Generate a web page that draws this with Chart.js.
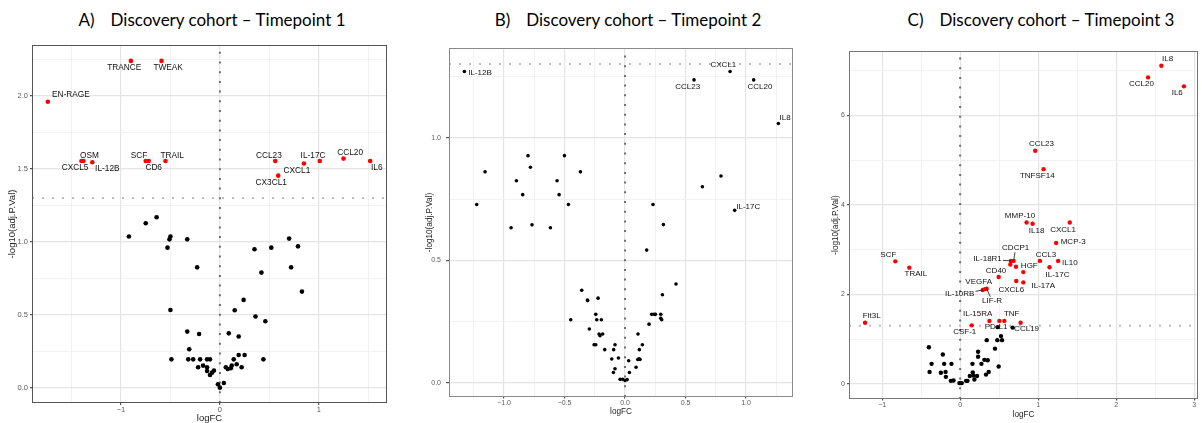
<!DOCTYPE html>
<html>
<head>
<meta charset="utf-8">
<script src="https://cdn.jsdelivr.net/npm/chart.js@4.4.0/dist/chart.umd.min.js"></script>
<style>
    html, body { margin: 0; padding: 0; background: #fff; }
    #contenedor { position: relative; width: 1202px; height: 423px; overflow: hidden; }
    canvas { position: absolute; top: 0; }
    .titulo {
        position: absolute; top: 9px; line-height: 21px;
        font-family: Lato, 'Open Sans', sans-serif; font-size: 17px; color: #000;
        white-space: nowrap; transform: translateX(-50%);
    }
    .titulo span { margin-right: 16px; }
</style>
</head>
<body>
<div id="contenedor">
    <div class="titulo" style="left:212px"><span>A)</span>Discovery cohort – Timepoint 1</div>
    <div class="titulo" style="left:628px"><span>B)</span>Discovery cohort – Timepoint 2</div>
    <div class="titulo" style="left:1041px"><span>C)</span>Discovery cohort – Timepoint 3</div>
    <canvas id="grafico_a" width="400" height="423" style="left:0px"></canvas>
    <canvas id="grafico_b" width="400" height="423" style="left:400px"></canvas>
    <canvas id="grafico_c" width="402" height="423" style="left:800px"></canvas>
</div>
<script>
// DATOS - A) TIMEPOINT 1
var a_rojo_nombres = ['TRANCE', 'TWEAK', 'EN-RAGE', 'OSM', 'CXCL5', 'IL-12B', 'SCF', 'CD6', 'TRAIL',
    'CCL23', 'CX3CL1', 'CXCL1', 'IL-17C', 'CCL20', 'IL6'];
var a_rojo_fc = [-0.90, -0.59, -1.74, -1.38, -1.40, -1.29, -0.75, -0.72, -0.55, 0.56, 0.59, 0.85, 1.01, 1.25, 1.52];
var a_rojo_p = [2.24, 2.24, 1.96, 1.555, 1.555, 1.546, 1.555, 1.555, 1.555, 1.555, 1.454, 1.537, 1.555, 1.571, 1.555];
var a_negro_fc = [-0.92, -0.75, -0.64, -0.50, -0.51, -0.53, -0.33, -0.23, -0.50, -0.33, -0.21, -0.31, -0.49, -0.32,
    -0.27, -0.20, -0.13, -0.10, -0.22, -0.17, -0.13, -0.13, -0.10, -0.08, -0.06, -0.02, 0.00, 0.04, 0.06, 0.08,
    0.11, 0.12, 0.14, 0.17, 0.22, 0.19, 0.25, 0.44, 0.09, 0.19, 0.15, 0.24, 0.36, 0.46, 0.83, 0.72, 0.42, 0.35,
    0.52, 0.70, 0.79];
var a_negro_p = [1.037, 1.128, 1.169, 1.037, 1.018, 0.961, 1.018, 0.826, 0.534, 0.386, 0.370, 0.265, 0.196, 0.196,
    0.196, 0.196, 0.196, 0.196, 0.142, 0.153, 0.142, 0.116, 0.089, 0.105, 0.119, 0.025, 0.002, 0.034, 0.142, 0.130,
    0.135, 0.153, 0.196, 0.162, 0.142, 0.226, 0.226, 0.196, 0.374, 0.352, 0.532, 0.603, 0.489, 0.457, 0.660, 0.826,
    0.790, 0.950, 0.961, 1.023, 0.970];
var a_x_mayor = [-1, 0, 1];
var a_x_menor = [-1.5, -0.5, 0.5, 1.5];
var a_y_mayor = [0, 0.5, 1, 1.5, 2];
var a_y_menor = [0.25, 0.75, 1.25, 1.75, 2.25];

// DATOS - B) TIMEPOINT 2
var b_etiq_nombres = ['IL-12B', 'CCL23', 'CXCL1', 'CCL20', 'IL8', 'IL-17C'];
var b_etiq_fc = [-1.328, 0.570, 0.868, 1.063, 1.267, 0.906];
var b_etiq_p = [1.270, 1.236, 1.270, 1.236, 1.058, 0.704];
var b_negro_fc = [-1.157, -1.226, -0.802, -0.782, -0.898, -0.846, -0.501, -0.369, -0.562, -0.545, -0.468, -0.942,
    -0.769, -0.617, 0.231, 0.317, 0.639, 0.793, 0.179, 0.421, 0.309, -0.358, -0.311, -0.309, -0.223, -0.449, -0.242,
    -0.234, -0.196, -0.295, -0.215, -0.185, -0.207, -0.256, -0.242, -0.168, -0.083, -0.094, -0.110, -0.055, -0.083,
    -0.096, -0.041, -0.019, 0.000, 0.017, 0.030, 0.036, 0.091, 0.105, 0.116, 0.124, 0.107, 0.118, 0.143, 0.198,
    0.220, 0.240, 0.251, 0.295, 0.295, 0.303];
var b_negro_p = [0.861, 0.728, 0.927, 0.880, 0.825, 0.768, 0.927, 0.861, 0.825, 0.768, 0.728, 0.633, 0.645, 0.633,
    0.728, 0.646, 0.800, 0.844, 0.542, 0.404, 0.360, 0.378, 0.338, 0.336, 0.346, 0.258, 0.280, 0.258, 0.258, 0.220,
    0.200, 0.200, 0.193, 0.156, 0.156, 0.136, 0.156, 0.136, 0.098, 0.102, 0.058, 0.043, 0.015, 0.015, 0.010, 0.014,
    0.091, 0.043, 0.064, 0.096, 0.099, 0.096, 0.200, 0.136, 0.156, 0.240, 0.280, 0.280, 0.280, 0.280, 0.264, 0.258];
var b_x_mayor = [-1, -0.5, 0, 0.5, 1];
var b_x_menor = [-1.25, -0.75, -0.25, 0.25, 0.75, 1.25];
var b_y_mayor = [0, 0.5, 1];
var b_y_menor = [0.25, 0.75, 1.25];

// DATOS - C) TIMEPOINT 3
var c_rojo_nombres = ['IL8', 'CCL20', 'IL6', 'CCL23', 'TNFSF14', 'MMP-10', 'IL18', 'CXCL1', 'MCP-3', 'CDCP1',
    'IL-18R1', '', '', 'CCL3', 'HGF', 'IL10', 'IL-17C', 'CD40', 'CXCL6', 'IL-17A', 'VEGFA', 'IL-10RB', 'LIF-R',
    'SCF', 'TRAIL', 'Flt3L', 'IL-15RA', 'PD-L1', 'TNF', 'CCL19', 'CSF-1'];
var c_rojo_fc = [2.58, 2.41, 2.87, 0.963, 1.07, 0.852, 0.929, 1.406, 1.231, 0.686, 0.652, 0.643, 0.716, 1.023,
    0.81, 1.257, 1.146, 0.494, 0.72, 0.81, 0.32, 0.29, 0.34, -0.831, -0.652, -1.219, 0.375, 0.503, 0.567, 0.775, 0.149];
var c_rojo_p = [7.11, 6.85, 6.65, 5.21, 4.80, 3.61, 3.58, 3.61, 3.15, 2.75, 2.75, 2.67, 2.62, 2.75, 2.50, 2.75,
    2.61, 2.39, 2.30, 2.27, 2.12, 2.10, 2.13, 2.74, 2.60, 1.37, 1.41, 1.41, 1.41, 1.37, 1.31];
var c_negro_fc = [0.481, 0.673, 0.524, 0.477, 0.537, 0.341, 0.447, 0.230, 0.230, 0.311, 0.354, 0.273, 0.158, 0.494,
    0.366, 0.332, 0.162, 0.170, 0.124, 0.217, 0.183, 0.077, 0.094, -0.009, 0.021, -0.085, -0.119, -0.183, -0.247,
    -0.187, -0.205, -0.111, -0.222, -0.392, -0.366, -0.401];
var c_negro_p = [1.27, 1.26, 1.07, 0.98, 0.98, 0.98, 0.79, 0.72, 0.61, 0.54, 0.53, 0.45, 0.45, 0.39, 0.27, 0.21,
    0.26, 0.19, 0.18, 0.18, 0.10, 0.07, 0.07, 0.02, 0.02, 0.08, 0.07, 0.16, 0.25, 0.27, 0.45, 0.45, 0.66, 0.27,
    0.45, 0.82];
var c_x_mayor = [-1, 0, 1, 2, 3];
var c_x_menor = [-0.5, 0.5, 1.5, 2.5];
var c_y_mayor = [0, 2, 4, 6];
var c_y_menor = [1, 3, 5, 7];

var umbral = -Math.log10(0.05);

// POSICION DE ETIQUETAS (dx, dy en px respecto al punto; 1 = linea guia)
var etiquetas_a = {
    'TRANCE': [-6.7, 7], 'TWEAK': [6.6, 7], 'EN-RAGE': [23, -6.6], 'OSM': [6, -5.7], 'CXCL5': [-6.4, 7],
    'IL-12B': [15, 6.4], 'SCF': [-6.7, -5.7], 'CD6': [5, 7], 'TRAIL': [6.7, -5.7], 'CCL23': [-6.4, -5.7],
    'CX3CL1': [-7, 7.3], 'CXCL1': [-7, 7.3], 'IL-17C': [-6.7, -5.7], 'CCL20': [6.7, -5.7], 'IL6': [6.6, 7]
};
var etiquetas_b = {
    'IL-12B': [15.7, 1], 'CXCL1': [-6.7, -6.6], 'CCL23': [-6.3, 7], 'CCL20': [6.3, 7], 'IL8': [6.7, -6],
    'IL-17C': [13.6, -4]
};
var etiquetas_c = {
    'IL8': [6.3, -6.7], 'CCL20': [-6.7, 6.3], 'IL6': [-6.7, 6.7], 'CCL23': [6.3, -6.7], 'TNFSF14': [-6.3, 7],
    'MMP-10': [-6.6, -6.3], 'IL18': [4, 7.3], 'CXCL1': [-6.7, 7], 'MCP-3': [17, -1.7], 'CDCP1': [2, -12.7, 1],
    'IL-18R1': [-23.4, -1.7, 1], 'CCL3': [6, -6.3], 'HGF': [6, -6.3], 'IL10': [11.7, 1.7], 'IL-17C': [8, 7.3],
    'CD40': [-2.6, -6.3], 'CXCL6': [-5, 8.3], 'IL-17A': [20, 3], 'VEGFA': [-6.4, -7], 'IL-10RB': [-23, 4, 1],
    'LIF-R': [5.4, 12, 1], 'SCF': [-7, -6.6], 'TRAIL': [6.6, 6.3], 'Flt3L': [6.7, -6.7], 'IL-15RA': [-11.7, -7],
    'TNF': [7.3, -7], 'PD-L1': [-3.3, 6.3], 'CCL19': [6, 6.3], 'CSF-1': [-7, 6.6]
};

function Puntos(fc, p) {
    return fc.map(function(x, i) { return { x: x, y: p[i] }; });
}

function Es_Mayor(v, mayores) {
    return mayores.some(function(m) { return Math.abs(m - v) < 1e-9; });
}

function Formato(v, dec) {
    return v.toFixed(dec).replace('-', '\u2212');
}

// MARCO DEL PANEL
var plugin_marco = {
    id: 'marco',
    afterDraw: function(chart, args, opts) {
        var a = chart.chartArea, c = chart.ctx;
        c.save();
        c.strokeStyle = opts.color;
        c.lineWidth = 1;
        c.strokeRect(Math.round(a.left) + 0.5, Math.round(a.top) + 0.5,
            Math.round(a.right - a.left) - 1, Math.round(a.bottom - a.top) - 1);
        c.restore();
    }
};

// ETIQUETAS DE PUNTOS
var plugin_etiquetas = {
    id: 'etiquetas',
    afterDatasetsDraw: function(chart, args, opts) {
        var c = chart.ctx;
        c.save();
        c.font = opts.size + 'px "Liberation Sans", Arial, sans-serif';
        c.fillStyle = '#111';
        c.strokeStyle = '#111';
        c.lineWidth = 0.8;
        c.textAlign = 'center';
        c.textBaseline = 'middle';
        chart.data.datasets.forEach(function(ds, i) {
            if (!ds.nombres) return;
            var meta = chart.getDatasetMeta(i);
            meta.data.forEach(function(el, j) {
                var nombre = ds.nombres[j];
                if (!nombre) return;
                var off = opts.posiciones[nombre] || [0, -7];
                var tx = el.x + off[0], ty = el.y + off[1];
                if (off[2]) {
                    var hw = c.measureText(nombre).width / 2 + 1, hh = opts.size / 2;
                    var dx = el.x - tx, dy = el.y - ty;
                    var t = Math.min(dx ? hw / Math.abs(dx) : Infinity, dy ? hh / Math.abs(dy) : Infinity);
                    if (t < 1) {
                        c.beginPath();
                        c.moveTo(tx + dx * t, ty + dy * t);
                        c.lineTo(el.x, el.y);
                        c.stroke();
                    }
                }
                c.fillText(nombre, tx, ty);
            });
        });
        c.restore();
    }
};

// GRAFICO VOLCANO
function Crear_Volcano(id, cfg) {
    var ctx = document.getElementById(id).getContext('2d');
    var fuente = '"Liberation Sans", Arial, sans-serif';
    var datasets = [];
    if (cfg.rojo) {
        datasets.push({
            data: Puntos(cfg.rojo.fc, cfg.rojo.p), nombres: cfg.rojo.nombres,
            backgroundColor: '#ff0000', pointRadius: cfg.radio, pointBorderWidth: 0, order: 0
        });
    }
    if (cfg.etiq) {
        datasets.push({
            data: Puntos(cfg.etiq.fc, cfg.etiq.p), nombres: cfg.etiq.nombres,
            backgroundColor: '#000', pointRadius: cfg.radio, pointBorderWidth: 0, order: 0
        });
    }
    datasets.push({
        data: Puntos(cfg.negro.fc, cfg.negro.p),
        backgroundColor: '#000', pointRadius: cfg.radio, pointBorderWidth: 0, order: 0
    });
    datasets.push({
        type: 'line', data: [{ x: 0, y: cfg.yMin }, { x: 0, y: cfg.yMax }],
        borderColor: '#6e6e6e', borderWidth: 2, borderDash: [2, 7.7], pointRadius: 0, fill: false, order: 1
    });
    datasets.push({
        type: 'line', data: [{ x: cfg.xMin, y: umbral }, { x: cfg.xMax, y: umbral }],
        borderColor: '#bdbdbd', borderWidth: 2, borderDash: [2, 8], pointRadius: 0, fill: false, order: 1
    });

    function Eje(mayor, menor, dec, extra) {
        var eje = {
            type: 'linear',
            afterBuildTicks: function(s) {
                s.ticks = mayor.concat(menor).sort(function(a, b) { return a - b; })
                    .map(function(v) { return { value: v }; });
            },
            ticks: {
                autoSkip: false, maxRotation: 0, color: '#5a5a5a',
                font: { family: fuente, size: cfg.fuenteTick },
                callback: function(v) { return Es_Mayor(v, mayor) ? Formato(v, dec) : ''; }
            },
            grid: {
                color: function(c) { return Es_Mayor(c.tick.value, mayor) ? '#e4e4e4' : '#efefef'; },
                lineWidth: function(c) { return Es_Mayor(c.tick.value, mayor) ? 1.2 : 0.8; },
                tickColor: function(c) { return Es_Mayor(c.tick.value, mayor) ? '#555' : 'rgba(0,0,0,0)'; },
                drawTicks: true
            },
            border: { display: false }
        };
        Object.keys(extra).forEach(function(k) {
            if (typeof extra[k] === 'object' && eje[k]) Object.assign(eje[k], extra[k]);
            else eje[k] = extra[k];
        });
        return eje;
    }

    new Chart(ctx, {
        type: 'scatter',
        data: { datasets: datasets },
        options: {
            responsive: false,
            animation: false,
            events: [],
            layout: { padding: cfg.padding },
            plugins: {
                legend: { display: false },
                tooltip: { enabled: false },
                marco: { color: cfg.colorMarco },
                etiquetas: { size: cfg.fuenteEtiq, posiciones: cfg.posiciones }
            },
            scales: {
                x: Eje(cfg.xMayor, cfg.xMenor, cfg.decX, {
                    min: cfg.xMin, max: cfg.xMax,
                    afterFit: function(s) { s.height = cfg.altoX; },
                    ticks: { padding: cfg.padTickX },
                    grid: { tickLength: cfg.largoTickX },
                    title: {
                        display: true, text: 'logFC', color: '#222',
                        font: { family: fuente, size: cfg.fuenteTitulo, lineHeight: 1 },
                        padding: { top: 0, bottom: cfg.padTituloX }
                    }
                }),
                y: Eje(cfg.yMayor, cfg.yMenor, cfg.decY, {
                    min: cfg.yMin, max: cfg.yMax,
                    afterFit: function(s) { s.width = cfg.anchoY; },
                    ticks: { padding: cfg.padTickY },
                    grid: { tickLength: cfg.largoTickY },
                    title: {
                        display: true, text: '-log10(adj.P.Val)', color: '#222',
                        font: { family: fuente, size: cfg.fuenteTitulo, lineHeight: 1 },
                        padding: { top: cfg.padTituloY, bottom: 0 }
                    }
                })
            }
        },
        plugins: [plugin_marco, plugin_etiquetas]
    });
}

// CARGAR PANELES
Crear_Volcano('grafico_a', {
    rojo: { nombres: a_rojo_nombres, fc: a_rojo_fc, p: a_rojo_p },
    negro: { fc: a_negro_fc, p: a_negro_p },
    xMin: -1.90, xMax: 1.69, yMin: -0.103, yMax: 2.349,
    xMayor: a_x_mayor, xMenor: a_x_menor, yMayor: a_y_mayor, yMenor: a_y_menor, decX: 0, decY: 1,
    padding: { left: 0, right: 13, top: 45, bottom: 0 },
    anchoY: 32, altoX: 20,
    radio: 2.3, fuenteTick: 7.5, fuenteTitulo: 9.5, fuenteEtiq: 8.3,
    padTickX: 0.5, largoTickX: 2, padTickY: 2, largoTickY: 2,
    padTituloX: 0, padTituloY: 7.2, colorMarco: '#555', posiciones: etiquetas_a
});

Crear_Volcano('grafico_b', {
    etiq: { nombres: b_etiq_nombres, fc: b_etiq_fc, p: b_etiq_p },
    negro: { fc: b_negro_fc, p: b_negro_p },
    xMin: -1.455, xMax: 1.388, yMin: -0.057, yMax: 1.366,
    xMayor: b_x_mayor, xMenor: b_x_menor, yMayor: b_y_mayor, yMenor: b_y_menor, decX: 1, decY: 1,
    padding: { left: 0, right: 7, top: 48, bottom: 6 },
    anchoY: 49, altoX: 20,
    radio: 1.8, fuenteTick: 7, fuenteTitulo: 8.2, fuenteEtiq: 8,
    padTickX: 0, largoTickX: 1.5, padTickY: 5, largoTickY: 3,
    padTituloX: 1, padTituloY: 25.9, colorMarco: '#8a8a8a', posiciones: etiquetas_b
});

Crear_Volcano('grafico_c', {
    rojo: { nombres: c_rojo_nombres, fc: c_rojo_fc, p: c_rojo_p },
    negro: { fc: c_negro_fc, p: c_negro_p },
    xMin: -1.425, xMax: 3.05, yMin: -0.335, yMax: 7.44,
    xMayor: c_x_mayor, xMenor: c_x_menor, yMayor: c_y_mayor, yMenor: c_y_menor, decX: 0, decY: 0,
    padding: { left: 0, right: 2.5, top: 51, bottom: 4 },
    anchoY: 49, altoX: 20,
    radio: 2.2, fuenteTick: 7, fuenteTitulo: 8.2, fuenteEtiq: 8,
    padTickX: 0, largoTickX: 1.5, padTickY: 2, largoTickY: 2,
    padTituloX: 0.6, padTituloY: 31.9, colorMarco: '#777', posiciones: etiquetas_c
});
</script>
</body>
</html>
